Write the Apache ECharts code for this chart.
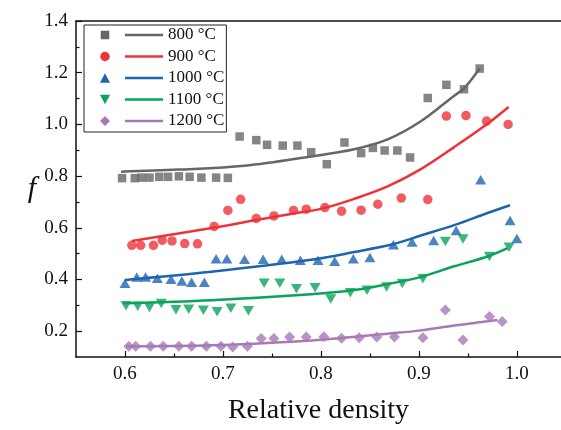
<!DOCTYPE html>
<html>
<head>
<meta charset="utf-8">
<script src="https://cdn.jsdelivr.net/npm/echarts@6/dist/echarts.min.js"></script>
<style>
  html, body { margin: 0; padding: 0; background: #fff; }
  #chart { width: 561px; height: 430px; }
</style>
</head>
<body>
<div id="chart"></div>
<script>
// measured points (relative density, f)
const d800x = [0.597, 0.610, 0.617, 0.625, 0.635, 0.644, 0.655, 0.666, 0.678, 0.693, 0.705,
  0.717, 0.734, 0.745, 0.761, 0.776, 0.790, 0.806, 0.824, 0.841, 0.853, 0.865, 0.878, 0.891, 0.909, 0.928, 0.946, 0.962];
const d800y = [0.792, 0.792, 0.794, 0.794, 0.797, 0.797, 0.799, 0.797, 0.794, 0.794, 0.793,
  0.953, 0.939, 0.921, 0.918, 0.918, 0.892, 0.846, 0.930, 0.889, 0.909, 0.899, 0.899, 0.872, 1.102, 1.153, 1.136, 1.216];

const d900x = [0.607, 0.616, 0.629, 0.638, 0.648, 0.661, 0.674, 0.691, 0.705, 0.718, 0.734, 0.752, 0.772, 0.785,
  0.804, 0.821, 0.841, 0.858, 0.882, 0.909, 0.928, 0.948, 0.969, 0.991];
const d900y = [0.532, 0.532, 0.532, 0.552, 0.549, 0.539, 0.538, 0.605, 0.667, 0.710, 0.636, 0.646, 0.667, 0.672,
  0.678, 0.664, 0.668, 0.691, 0.715, 0.709, 1.032, 1.034, 1.013, 1.000];

const d1000x = [0.600, 0.612, 0.621, 0.633, 0.647, 0.658, 0.668, 0.681, 0.693, 0.704, 0.722, 0.741, 0.760, 0.779, 0.797,
  0.814, 0.833, 0.850, 0.874, 0.893, 0.915, 0.938, 0.963, 0.993, 1.000];
const d1000y = [0.385, 0.410, 0.410, 0.405, 0.401, 0.394, 0.389, 0.389, 0.480, 0.480, 0.478, 0.478, 0.478, 0.474, 0.474,
  0.470, 0.480, 0.485, 0.534, 0.545, 0.551, 0.589, 0.786, 0.628, 0.558];

const d1100x = [0.601, 0.613, 0.625, 0.637, 0.652, 0.665, 0.680, 0.694, 0.708, 0.726, 0.742, 0.758, 0.775, 0.794,
  0.810, 0.830, 0.847, 0.867, 0.883, 0.904, 0.927, 0.945, 0.972, 0.992];
const d1100y = [0.298, 0.296, 0.292, 0.307, 0.283, 0.285, 0.281, 0.275, 0.289, 0.279, 0.385, 0.385, 0.364, 0.368,
  0.324, 0.349, 0.358, 0.371, 0.384, 0.403, 0.547, 0.557, 0.489, 0.525];

const d1200x = [0.604, 0.611, 0.626, 0.639, 0.655, 0.668, 0.683, 0.698, 0.710, 0.725, 0.739, 0.752, 0.768, 0.785,
  0.803, 0.821, 0.839, 0.857, 0.875, 0.904, 0.927, 0.945, 0.972, 0.985];
const d1200y = [0.142, 0.142, 0.142, 0.142, 0.142, 0.142, 0.142, 0.142, 0.139, 0.142, 0.172, 0.172, 0.177, 0.177,
  0.178, 0.173, 0.174, 0.177, 0.177, 0.174, 0.282, 0.166, 0.257, 0.237];

// fitted curves
const fit800x = [0.596, 0.654, 0.722, 0.790, 0.834, 0.868, 0.902, 0.936, 0.946, 0.962];
const fit800y = [0.817, 0.825, 0.840, 0.876, 0.904, 0.942, 1.012, 1.111, 1.139, 1.216];
const fit900x = [0.607, 0.690, 0.734, 0.772, 0.800, 0.834, 0.868, 0.902, 0.936, 0.970, 0.9915];
const fit900y = [0.549, 0.600, 0.630, 0.655, 0.673, 0.712, 0.760, 0.827, 0.912, 1.002, 1.067];
const fit1000x = [0.600, 0.688, 0.790, 0.834, 0.874, 0.902, 0.936, 0.970, 0.993];
const fit1000y = [0.398, 0.430, 0.476, 0.506, 0.537, 0.570, 0.610, 0.657, 0.687];
const fit1100x = [0.598, 0.688, 0.790, 0.834, 0.868, 0.902, 0.936, 0.970, 0.9905];
const fit1100y = [0.308, 0.320, 0.343, 0.359, 0.382, 0.410, 0.451, 0.489, 0.521];
const fit1200x = [0.601, 0.688, 0.790, 0.834, 0.868, 0.902, 0.936, 0.970, 0.980];
const fit1200y = [0.1415, 0.145, 0.164, 0.178, 0.190, 0.203, 0.222, 0.238, 0.243];

const names = ['800 °C', '900 °C', '1000 °C', '1100 °C', '1200 °C'];
const colors = ['#666666', '#ee3338', '#1f64b1', '#0aa35b', '#a978b6'];

const xMajor = [0.6, 0.7, 0.8, 0.9, 1.0];
const xMinor = [0.65, 0.75, 0.85, 0.95];
const yMajor = [0.2, 0.4, 0.6, 0.8, 1.0, 1.2, 1.4];
const yMinor = [0.3, 0.5, 0.7, 0.9, 1.1, 1.3];

const zip = (xs, ys) => xs.map((x, i) => [x, ys[i]]);
const pts = [zip(d800x, d800y), zip(d900x, d900y), zip(d1000x, d1000y), zip(d1100x, d1100y), zip(d1200x, d1200y)];
const fits = [zip(fit800x, fit800y), zip(fit900x, fit900y), zip(fit1000x, fit1000y), zip(fit1100x, fit1100y), zip(fit1200x, fit1200y)];

const symbols = [
  { symbol: 'rect', size: 8.5, rotate: 0 },
  { symbol: 'circle', size: 9.5, rotate: 0 },
  { symbol: 'triangle', size: [11, 9.5], rotate: 0 },
  { symbol: 'triangle', size: [11, 9.5], rotate: 180 },
  { symbol: 'diamond', size: [11, 11], rotate: 0 }
];

// legend icons: marker + line segment in one path (box 0..63 x 0..10)
const line = ' M25 3.75 H63 V6.25 H25 Z';
const icons = [
  'path://M0.75 0.75 H9.25 V9.25 H0.75 Z M0 0 H0 Z M63 10 H63 Z' + line,
  'path://M0.25 5 A4.75 4.75 0 1 1 9.75 5 A4.75 4.75 0 1 1 0.25 5 Z M0 0 H0 Z M63 10 H63 Z' + line,
  'path://M5 0.25 L10 9.75 L0 9.75 Z M0 0 H0 Z M63 10 H63 Z' + line,
  'path://M0 0.25 L10 0.25 L5 9.75 Z M0 0 H0 Z M63 10 H63 Z' + line,
  'path://M5 0 L10 5 L5 10 L0 5 Z M63 10 H63 Z' + line
];

const serif = 'Liberation Serif';
const series = [];
names.forEach((n, i) => {
  series.push({
    name: n + ' data',
    type: 'scatter',
    data: pts[i],
    symbol: symbols[i].symbol,
    symbolSize: symbols[i].size,
    symbolRotate: symbols[i].rotate,
    itemStyle: { color: colors[i] },
    z: 3
  });
});
names.forEach((n, i) => {
  series.push({
    name: n,
    type: 'line',
    data: fits[i],
    smooth: 0.35,
    showSymbol: false,
    symbol: 'none',
    lineStyle: { color: colors[i], width: 2.5 },
    itemStyle: { color: colors[i] },
    z: 2
  });
});

const chart = echarts.init(document.getElementById('chart'), null, { renderer: 'canvas' });
chart.setOption({
  animation: false,
  grid: { left: 76, right: 0, top: 21, bottom: 70 },
  legend: {
    orient: 'vertical',
    left: 84,
    top: 25,
    padding: [1.5, 2, 2.5, 16],
    itemGap: 4.5,
    itemWidth: 63,
    itemHeight: 10,
    borderColor: '#222',
    borderWidth: 1,
    selectedMode: false,
    itemStyle: { borderWidth: 0 },
    textStyle: { fontFamily: serif, fontSize: 17, color: '#111', lineHeight: 17 },
    data: names.map((n, i) => ({ name: n, icon: icons[i] }))
  },
  xAxis: [
    {
      type: 'value', min: 0.55, max: 1.045, position: 'bottom',
      name: 'Relative density', nameLocation: 'middle', nameGap: 40,
      nameTextStyle: { fontFamily: serif, fontSize: 28, color: '#111' },
      axisLine: { lineStyle: { color: '#111', width: 1.5 } },
      axisTick: { inside: true, length: 6, customValues: xMajor, lineStyle: { color: '#111', width: 1.2 } },
      axisLabel: { customValues: xMajor, margin: 8, fontFamily: serif, fontSize: 19, color: '#111',
        formatter: v => v.toFixed(1) },
      splitLine: { show: false }
    },
    {
      type: 'value', min: 0.55, max: 1.045, position: 'bottom',
      axisLine: { show: false },
      axisTick: { inside: true, length: 3.5, customValues: xMinor, lineStyle: { color: '#111', width: 1.2 } },
      axisLabel: { show: false },
      splitLine: { show: false }
    },
    {
      type: 'value', min: 0.55, max: 1.045, position: 'top',
      axisLine: { lineStyle: { color: '#111', width: 1.5 } },
      axisTick: { show: false },
      axisLabel: { show: false },
      splitLine: { show: false }
    }
  ],
  yAxis: [
    {
      type: 'value', min: 0.1, max: 1.4, position: 'left',
      name: 'f', nameLocation: 'middle', nameRotate: 0, nameGap: 40,
      nameTextStyle: { fontFamily: serif, fontSize: 30, fontStyle: 'italic', color: '#111' },
      axisLine: { show: true, lineStyle: { color: '#111', width: 1.5 } },
      axisTick: { show: true, inside: true, length: 6, customValues: yMajor, lineStyle: { color: '#111', width: 1.2 } },
      axisLabel: { customValues: yMajor, margin: 8, fontFamily: serif, fontSize: 19, color: '#111',
        formatter: v => v.toFixed(1) },
      splitLine: { show: false }
    },
    {
      type: 'value', min: 0.1, max: 1.4, position: 'left',
      axisLine: { show: false },
      axisTick: { show: true, inside: true, length: 3.5, customValues: yMinor, lineStyle: { color: '#111', width: 1.2 } },
      axisLabel: { show: false },
      splitLine: { show: false }
    }
  ],
  series: series
});
</script>
</body>
</html>
